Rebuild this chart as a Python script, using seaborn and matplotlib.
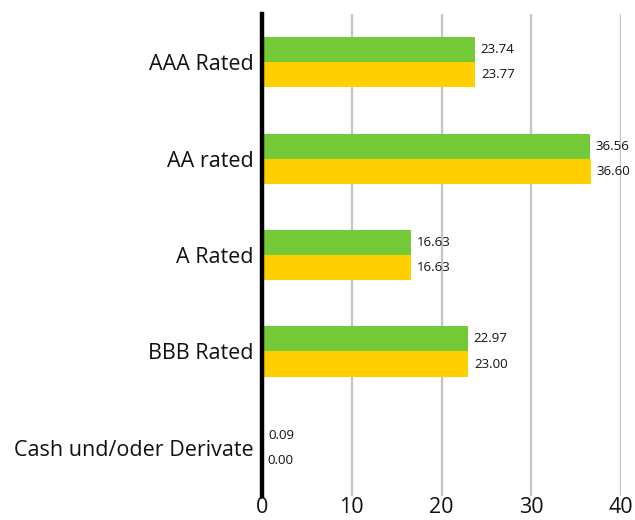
import pandas as pd
import matplotlib
matplotlib.use("Agg")
import matplotlib.pyplot as plt
import seaborn as sns

# Data
categories = ["AAA Rated", "AA rated", "A Rated", "BBB Rated", "Cash und/oder Derivate"]
fund = [23.74, 36.56, 16.63, 22.97, 0.09]
benchmark = [23.77, 36.60, 16.63, 23.00, 0.00]
series = ["Fonds", "Benchmark"]
colors = ["#74c936", "#ffcf00"]

df = pd.DataFrame({
    "category": categories * 2,
    "value": fund + benchmark,
    "series": [series[0]] * len(categories) + [series[1]] * len(categories),
})

sns.set_style("white")
plt.rcParams["font.family"] = ["Open Sans", "DejaVu Sans"]

fig = plt.figure(figsize=(6.35, 5.2), dpi=100)
ax = fig.add_axes([0.4126, 0.046, 0.5654, 0.927])

sns.barplot(data=df, y="category", x="value", hue="series", hue_order=series,
            palette=colors, width=0.52, orient="h", saturation=1, legend=False,
            linewidth=0, ax=ax)

for cont in ax.containers:
    ax.bar_label(cont, fmt="%.2f", padding=4, fontsize=9.5, color="#111111")

ax.set_xlim(0, 40)
ax.set_ylim(4.5, -0.5)
ax.set_xticks([0, 10, 20, 30, 40])
ax.grid(axis="x", color="#c4c4c4", linewidth=1.6)
ax.set_axisbelow(True)
for s in ["top", "right", "bottom"]:
    ax.spines[s].set_visible(False)
ax.spines["left"].set_linewidth(3.2)
ax.spines["left"].set_color("black")
ax.spines["left"].set_zorder(5)
ax.tick_params(axis="both", length=0, labelsize=15.5, colors="#111111")
ax.tick_params(axis="y", pad=6)
ax.tick_params(axis="x", pad=1, labelsize=15.5)
ax.set_xlabel("")
ax.set_ylabel("")

fig.savefig("out.png", dpi=100)
